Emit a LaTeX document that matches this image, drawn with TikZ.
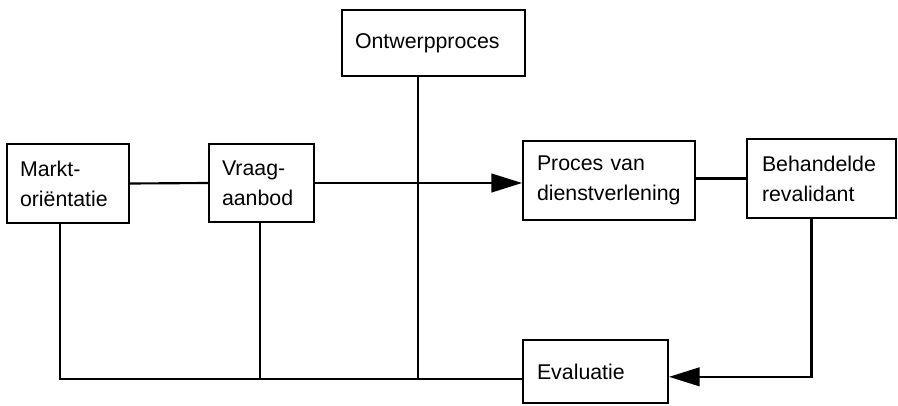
\documentclass[tikz,border=0pt]{standalone}
\usepackage{fontspec}
\setmainfont{Liberation Sans}
\usetikzlibrary{arrows.meta}
\begin{document}
\begin{tikzpicture}[x=0.75pt,y=-0.75pt,
  blok/.style n args={3}{draw, line width=1.5pt, rectangle,
    inner xsep=#3*0.75pt, inner ysep=0pt,
    text width=(#1-2*#3)*0.75pt, minimum height=#2*0.75pt,
    align=left, font=\fontsize{16}{22.5}\selectfont},
  lijn/.style={line width=1.6pt},
  pijl/.style={lijn, -{Triangle[length=23pt,width=14pt]}}]
\useasboundingbox (0,0) rectangle (898,406);
% boxes
\node[blok={122}{79}{13}] (markt)   at (68,183.5)  {Markt-\\oriëntatie};
\node[blok={105}{78}{13}] (vraag)   at (261.5,183) {Vraag-\\aanbod};
\node[blok={183}{66}{13}] (ontwerp) at (433.5,43)  {Ontwerpproces};
\node[blok={172}{79}{14}] (proces)  at (609,180.5) {Proces van\\dienstverlening};
\node[blok={149}{79}{15}] (beh)     at (821.5,178.5) {Behandelde\\revalidant};
\node[blok={145}{63}{14}] (eval)    at (595.5,371.5) {Evaluatie};
% horizontal chain
\draw[lijn] (markt.east) -- (vraag.west);
\draw[pijl] (vraag.east) -- (vraag.east -| proces.west);
\draw[lijn] (proces.east |- beh.west) -- (beh.west);
% feedback from the treated patient to the evaluation
\coordinate (terug) at ([yshift=-4pt]eval.east);
\draw[pijl] ([xshift=-7.5pt]beh.south) |- (terug);
% common bottom line towards the evaluation
\coordinate (bus) at ([yshift=-5.6pt]eval.west);
\draw[lijn] ([xshift=-6pt]markt.south) |- (bus);
\draw[lijn] ([xshift=-1.1pt]vraag.south) -- ([xshift=-1.1pt]vraag.south |- bus);
\draw[lijn] ([xshift=-11.6pt]ontwerp.south) -- ([xshift=-11.6pt]ontwerp.south |- bus);
\end{tikzpicture}
\end{document}
